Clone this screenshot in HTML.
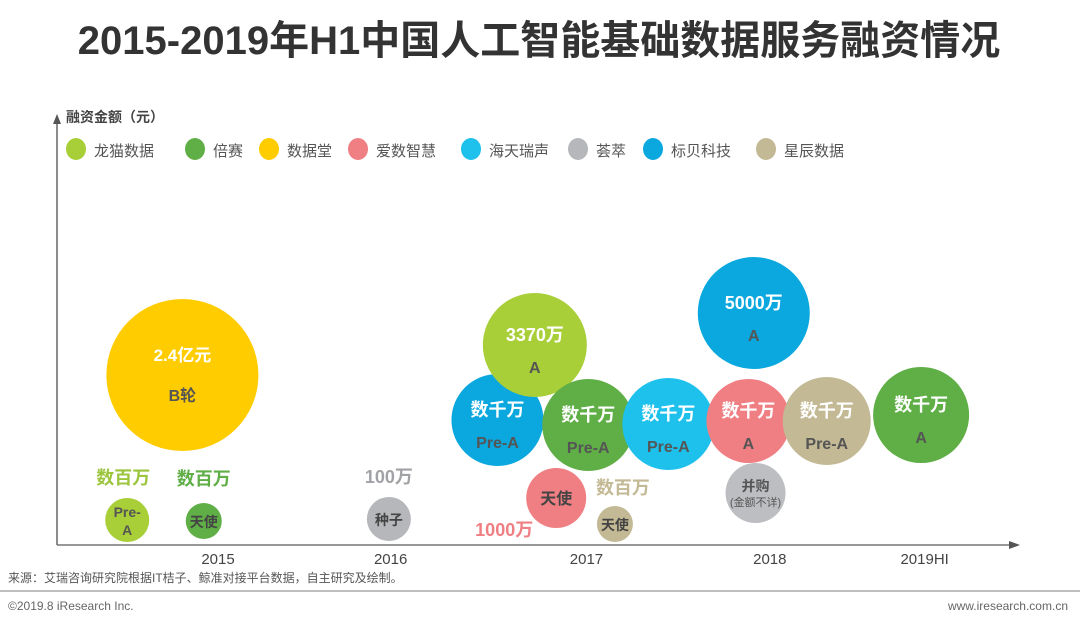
<!DOCTYPE html>
<html><head><meta charset="utf-8">
<style>
body{margin:0;background:#fff;}
svg{display:block;font-family:"Liberation Sans","Noto Sans CJK SC",sans-serif;}
</style></head>
<body>
<svg id="chart" width="1080" height="627" viewBox="0 0 1080 627">
<text x="539" y="54" text-anchor="middle" font-size="40" font-weight="bold" fill="#333">2015-2019年H1中国人工智能基础数据服务融资情况</text>
<line x1="57" y1="545" x2="57" y2="122" stroke="#666" stroke-width="1.5"/>
<polygon points="57,114 53,124 61,124" fill="#555"/>
<line x1="57" y1="545" x2="1010" y2="545" stroke="#777" stroke-width="1.5"/>
<polygon points="1020,545 1009,541 1009,549" fill="#555"/>
<text x="66" y="122" font-size="14" font-weight="bold" fill="#444">融资金额（元）</text>
<g id="legend"></g>
<g id="ticks"></g>
<g id="bubbles"></g>
<line x1="0" y1="591" x2="1080" y2="591" stroke="#aaa" stroke-width="1.5"/>
<text x="8" y="582" font-size="12" fill="#555">来源：艾瑞咨询研究院根据IT桔子、鲸准对接平台数据，自主研究及绘制。</text>
<text x="8" y="610" font-size="12" fill="#666">©2019.8 iResearch Inc.</text>
<text x="1068" y="610" font-size="12" fill="#666" text-anchor="end">www.iresearch.com.cn</text>
</svg>
<script>
const legendNames = ["龙猫数据","倍赛","数据堂","爱数智慧","海天瑞声","荟萃","标贝科技","星辰数据"];
const legendColors = ["#A8CF38","#5FAE46","#FFCC00","#F07F84","#1EC0EC","#B5B7BA","#0AA8DF","#C3B994"];
const tickLabels = ["2015","2016","2017","2018","2019HI"];
const tickValues = [2015, 2015.97, 2017.07, 2018.1, 2018.97];
const bubX = [2014.80,2014.49,2014.92,2015.96,2016.57,2016.78,2017.08,2016.90,2017.23,2017.53,2018.01,2017.98,2018.02,2018.42,2018.95];
const bubY = [34,5,4.8,5.2,25,40,24,9.4,4.2,24.2,46.4,24.8,10.4,24.8,26];
const bubSize = [76,22,18,22,46,52,46,30,18,46,56,42,30,44,48];
const bubCompany = [2,0,1,5,6,0,1,3,7,4,6,3,5,7,1];
const bubMain = ["2.4亿元","","","","数千万","3370万","数千万","","","数千万","5000万","数千万","","数千万","数千万"];
const bubRound = ["B轮","Pre-A","天使","种子","Pre-A","A","Pre-A","天使","天使","Pre-A","A","A","并购","Pre-A","A"];
const outLabel = ["","数百万","数百万","100万","","","","1000万","数百万","","","","","",""];
const outColor = ["","#9BC53D","#5FAE46","#A0A2A5","","","","#F07F84","#C3B994","","","","","",""];
const outDY = [0,-36,-36,-36,0,0,0,38,-30,0,0,0,0,0,0];
const outDX = [0,-4,0,0,0,0,0,-52,8,0,0,0,0,0,0];

const NS="http://www.w3.org/2000/svg";
function xS(v){return 218+(v-2015)*178;}
function yS(v){return 545-v*5;}
function mk(tag,attrs,parent,txt){const e=document.createElementNS(NS,tag);for(const k in attrs)e.setAttribute(k,attrs[k]);if(txt!==undefined)e.textContent=txt;parent.appendChild(e);return e;}

const lg=document.getElementById('legend');
const lx=[76,195,269,358,471,578,653,766];
legendNames.forEach((n,i)=>{
  const c=mk('ellipse',{cx:lx[i],cy:149,rx:10,ry:11,fill:legendColors[i]},lg);
  
  
  const t=mk('text',{x:lx[i]+18,y:156,'font-size':15,fill:'#555'},lg,n);
  
  
});
const tg=document.getElementById('ticks');
tickLabels.forEach((l,i)=>{
  const t=mk('text',{x:xS(tickValues[i]),y:564,'font-size':15,fill:'#444','text-anchor':'middle'},tg,l);
  
  
});
const bg=document.getElementById('bubbles');
bubX.forEach((xv,i)=>{
  const cx=xS(xv),cy=yS(bubY[i]),r=bubSize[i];
  const c=mk('circle',{cx:cx,cy:cy,r:r,fill:legendColors[bubCompany[i]],'fill-opacity':i==12?0.9:1},bg);
  
  
  if(bubMain[i]){
    const t=mk('text',{x:cx,y:cy-(r>60?14:4),'font-size':r>60?17:18,'font-weight':'bold',fill:'#fff','text-anchor':'middle'},bg,bubMain[i]);
    
    
    const s=mk('text',{x:cx,y:cy+(r>60?26:28),'font-size':16,'font-weight':'bold',fill:'#555','text-anchor':'middle'},bg,bubRound[i]);
    
    
  } else if(i==12){
    const s=mk('text',{x:cx,y:cy-2,'font-size':14,'font-weight':'bold',fill:'#555','text-anchor':'middle'},bg,bubRound[i]);
    
    
    const s2=mk('text',{x:cx,y:cy+13,'font-size':11,fill:'#555','text-anchor':'middle'},bg,'(金额不详)');
    
    
  } else if(i==1){
    const s=mk('text',{x:cx,y:cy-3,'font-size':14,'font-weight':'bold',fill:'#555','text-anchor':'middle'},bg,'Pre-');
    
    
    const s2=mk('text',{x:cx,y:cy+15,'font-size':14,'font-weight':'bold',fill:'#555','text-anchor':'middle'},bg,'A');
    
    
  } else {
    const s=mk('text',{x:cx,y:cy+6,'font-size':r>25?16:14,'font-weight':'bold',fill:'#444','text-anchor':'middle'},bg,bubRound[i]);
    
    
  }
  if(outLabel[i]){
    const o=mk('text',{x:cx+outDX[i],y:cy+outDY[i],'font-size':18,'font-weight':'bold',fill:outColor[i],'text-anchor':'middle'},bg,outLabel[i]);
    
    
  }
});
</script>
</body></html>
